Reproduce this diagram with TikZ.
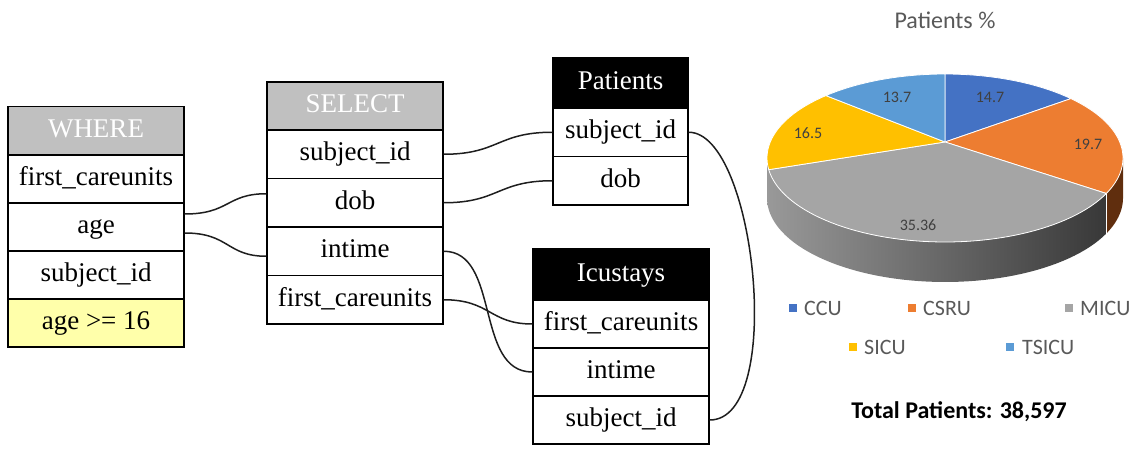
\documentclass[tikz,border=0pt]{standalone}
\usepackage{fontspec}
\setmainfont{Liberation Serif}
\newfontfamily\chartfont{Carlito}
\usetikzlibrary{calc}
\definecolor{hdrgray}{RGB}{192,192,192}
\definecolor{condyellow}{RGB}{255,255,170}
\definecolor{ccu}{RGB}{68,114,196}
\definecolor{csru}{RGB}{237,125,49}
\definecolor{micu}{RGB}{165,165,165}
\definecolor{sicu}{RGB}{255,192,0}
\definecolor{tsicu}{RGB}{91,155,213}
\definecolor{csruside}{RGB}{96,46,14}
\definecolor{txtgray}{RGB}{89,89,89}
\definecolor{lblgray}{RGB}{64,64,64}
\definecolor{wire}{RGB}{30,30,30}
\begin{document}
\begin{tikzpicture}[x=1pt,y=-1pt,
  cell/.style={draw=black, line width=1.4pt, fill=white, inner sep=0pt,
    text height=19pt, text depth=6pt, font=\fontsize{27}{30}\selectfont},
  wcell/.style={cell, minimum width=176pt, minimum height=48pt},
  scell/.style={cell, minimum width=176pt, minimum height=48.5pt},
  pcell/.style={cell, minimum width=135pt, minimum height=48.5pt},
  icell/.style={cell, minimum width=176pt, minimum height=48pt},
  grayhead/.style={fill=hdrgray, text=white},
  blackhead/.style={fill=black, text=white},
  wirestyle/.style={draw=wire, line width=1.5pt},
  pielabel/.style={font=\chartfont\fontsize{16}{19}\selectfont, text=lblgray},
  legtxt/.style={font=\chartfont\fontsize{22}{26}\selectfont, text=txtgray, anchor=west, inner sep=0pt},
  legsq/.style={minimum size=8pt, inner sep=0pt},
  slice/.style={draw=white, line width=0.8pt, line join=round}
]
\useasboundingbox (0,0) rectangle (1139,449);

% WHERE table
\node[wcell, grayhead, minimum height=49pt] (wh) at (96,131) {WHERE};
\node[wcell] (w1) at (96,179) {first\_careunits};
\node[wcell] (w2) at (96,227) {age};
\node[wcell] (w3) at (96,275) {subject\_id};
\node[wcell, fill=condyellow] (w4) at (96,323) {age >= 16};

% SELECT table
\node[scell, grayhead, minimum height=48pt] (sh) at (355,106) {SELECT};
\node[scell] (s1) at (355,154.25) {subject\_id};
\node[scell] (s2) at (355,202.75) {dob};
\node[scell] (s3) at (355,251.25) {intime};
\node[scell] (s4) at (355,299.75) {first\_careunits};

% Patients table
\node[pcell, blackhead, minimum height=50pt] (ph) at (620.5,83) {Patients};
\node[pcell] (p1) at (620.5,132.25) {subject\_id};
\node[pcell] (p2) at (620.5,180.75) {dob};

% Icustays table
\node[icell, blackhead, minimum height=51pt] (ih) at (621,274.5) {Icustays};
\node[icell] (i1) at (621,324) {first\_careunits};
\node[icell] (i2) at (621,372) {intime};
\node[icell] (i3) at (621,420) {subject\_id};

% connectors
\draw[wirestyle] ($(w2.east)+(0,-13)$) .. controls +(45,0) and +(-40,0) .. ($(s2.west)+(0,-9)$);
\draw[wirestyle] ($(w2.east)+(0,6)$) .. controls +(45,0) and +(-40,0) .. ($(s3.west)+(0,5)$);
\draw[wirestyle] (s1.east) .. controls +(55,0) and +(-55,0) .. (p1.west);
\draw[wirestyle] (s2.east) .. controls +(55,0) and +(-55,0) .. (p2.west);
\draw[wirestyle] (s3.east) .. controls +(57,0) and +(-58,0) .. (i2.west);
\draw[wirestyle] (s4.east) .. controls +(47,0) and +(-43,0) .. (i1.west);
\draw[wirestyle] (p1.east) .. controls +(67,0) and +(76,0) .. (i3.east);

% Pie chart
\node[font=\chartfont\fontsize{24}{28}\selectfont, text=txtgray] (title) at (945,20) {Patients \%};
\def\cx{945}\def\cy{158}\def\rx{178}\def\ry{84}\def\dd{40}
% sides
\fill[csruside] plot[domain=0:25, samples=20] ({\cx+\rx*cos(\x)},{\cy+\ry*sin(\x)})
  -- plot[domain=25:0, samples=20] ({\cx+\rx*cos(\x)},{\cy+\dd+\ry*sin(\x)}) -- cycle;
\shade[left color=black!40, right color=black!78]
  plot[domain=25:180, samples=60] ({\cx+\rx*cos(\x)},{\cy+\ry*sin(\x)})
  -- plot[domain=180:25, samples=60] ({\cx+\rx*cos(\x)},{\cy+\dd+\ry*sin(\x)}) -- cycle;
\draw[white, line width=0.6pt] ({\cx+\rx*cos(25)},{\cy+\ry*sin(25)}) -- ({\cx+\rx*cos(25)},{\cy+\dd+\ry*sin(25)});
% top slices
\coordinate (apex) at (945,142);
\filldraw[slice, fill=ccu] (apex) -- plot[domain=-90:-45, samples=20] ({\cx+\rx*cos(\x)},{\cy+\ry*sin(\x)}) -- cycle;
\filldraw[slice, fill=csru] (apex) -- plot[domain=-45:25, samples=30] ({\cx+\rx*cos(\x)},{\cy+\ry*sin(\x)}) -- cycle;
\filldraw[slice, fill=micu] (apex) -- plot[domain=25:172, samples=60] ({\cx+\rx*cos(\x)},{\cy+\ry*sin(\x)}) -- cycle;
\filldraw[slice, fill=sicu] (apex) -- plot[domain=172:228, samples=25] ({\cx+\rx*cos(\x)},{\cy+\ry*sin(\x)}) -- cycle;
\filldraw[slice, fill=tsicu] (apex) -- plot[domain=228:270, samples=20] ({\cx+\rx*cos(\x)},{\cy+\ry*sin(\x)}) -- cycle;
% data labels
\node[pielabel] (l1) at (990,97) {14.7};
\node[pielabel] (l2) at (1088,144) {19.7};
\node[pielabel] (l3) at (918,225) {35.36};
\node[pielabel] (l4) at (808,133) {16.5};
\node[pielabel] (l5) at (897,97) {13.7};

% legend
\node[legsq, fill=ccu] (k1) at (793,308) {};
\node[legtxt] (t1) at (804,308) {CCU};
\node[legsq, fill=csru] (k2) at (912,308) {};
\node[legtxt] (t2) at (923,308) {CSRU};
\node[legsq, fill=micu] (k3) at (1069,308) {};
\node[legtxt] (t3) at (1080,308) {MICU};
\node[legsq, fill=sicu] (k4) at (853,347) {};
\node[legtxt] (t4) at (864,347) {SICU};
\node[legsq, fill=tsicu] (k5) at (1010,347) {};
\node[legtxt] (t5) at (1022,347) {TSICU};

\node[font=\chartfont\bfseries\fontsize{24}{28}\selectfont, text=black] (total) at (959,412) {Total Patients: 38,597};
\end{tikzpicture}
\end{document}
